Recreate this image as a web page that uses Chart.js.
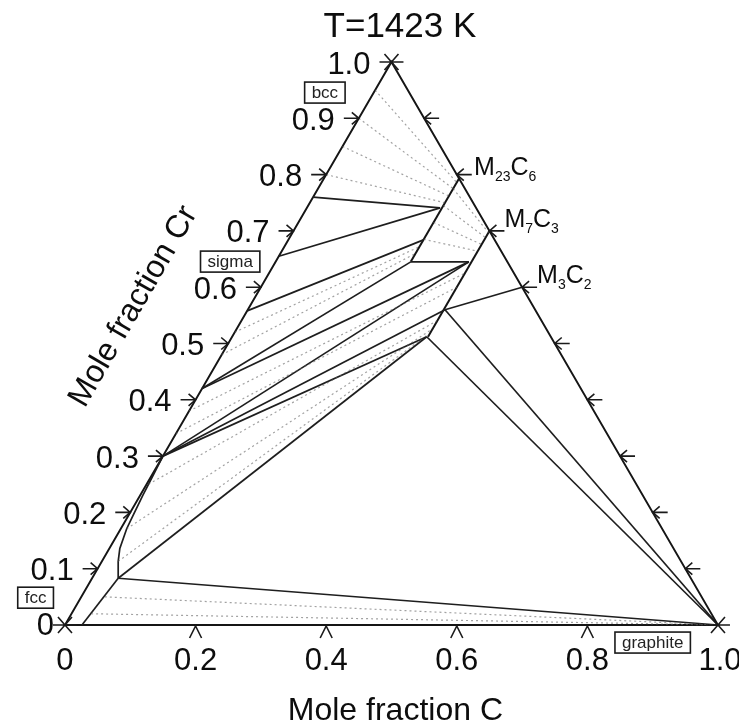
<!DOCTYPE html>
<html lang="en">
<head>
<meta charset="UTF-8">
<title>T=1423 K</title>
<script src="https://cdn.jsdelivr.net/npm/chart.js"></script>
<style>
  html, body { margin: 0; padding: 0; background: #fff; }
  canvas { display: block; }
</style>
</head>
<body>
<canvas id="ternary" width="739" height="722"></canvas>
<script>
// every composition is [mole fraction C, mole fraction Cr]
const triangle = [[0, 0], [1, 0], [0, 1], [0, 0]];

// carbide phase lines
const m23c6 = [[0.207, 0.793], [0.207, 0.645]];
const m7c3 = [[0.300, 0.700], [0.300, 0.512]];

// phase boundaries and tie-triangle edges
const boundaries = [
  [[0.026, 0], [0.040, 0.083]],
  [[0.040, 0.083], [0.025, 0.113], [0.016, 0.136], [0.009, 0.171], [0.007, 0.195], [0.004, 0.230], [0.002, 0.266], [0, 0.300]],
  [[0.040, 0.083], [1, 0]],
  [[0.040, 0.083], [0.298, 0.512]],
  [[0.298, 0.512], [1, 0]],
  [[0.302, 0.560], [1, 0]],
  [[0.400, 0.600], [0.302, 0.560]],
  [[0.207, 0.645], [0.296, 0.645]],
  [[0, 0.760], [0.204, 0.741]],
  [[0, 0.655], [0.204, 0.741]],
  [[0, 0.558], [0.207, 0.684]],
  [[0, 0.420], [0.207, 0.645]],
  [[0, 0.420], [0.296, 0.645]],
  [[0, 0.300], [0.296, 0.645]],
  [[0, 0.300], [0.302, 0.560]],
  [[0, 0.300], [0.298, 0.512]]
];

// faint tie lines inside two-phase fields
const tieLines = [
  [[0, 0.800], [0.207, 0.750]],
  [[0, 0.850], [0.207, 0.762]],
  [[0, 0.900], [0.207, 0.775]],
  [[0, 0.950], [0.207, 0.786]],
  [[0.207, 0.775], [0.300, 0.697]],
  [[0.207, 0.745], [0.300, 0.688]],
  [[0.207, 0.715], [0.300, 0.676]],
  [[0.207, 0.685], [0.300, 0.664]],
  [[0, 0.480], [0.207, 0.660]],
  [[0, 0.520], [0.207, 0.672]],
  [[0, 0.340], [0.300, 0.600]],
  [[0, 0.380], [0.300, 0.625]],
  [[0.003, 0.250], [0.299, 0.540]],
  [[0.009, 0.171], [0.299, 0.525]],
  [[0.025, 0.113], [0.298, 0.516]],
  [[0.030, 0.020], [1, 0]],
  [[0.036, 0.050], [1, 0]]
];

const crTicks = [0.1, 0.2, 0.3, 0.4, 0.5, 0.6, 0.7, 0.8, 0.9];
const cTicks = [0.2, 0.4, 0.6, 0.8];
const cTickLabels = ['0.2', '0.4', '0.6', '0.8'];
const crTickLabels = ['0.1', '0.2', '0.3', '0.4', '0.5', '0.6', '0.7', '0.8', '0.9'];

const carbides = [
  { main: 'M', sub1: '23', c: 'C', sub2: '6', at: [0.207, 0.793] },
  { main: 'M', sub1: '7', c: 'C', sub2: '3', at: [0.300, 0.700] },
  { main: 'M', sub1: '3', c: 'C', sub2: '2', at: [0.400, 0.600] }
];

// boxed phase names, anchored in chart units
const phaseBoxes = [
  { text: 'bcc', x: 0.398, y: 0.819 },
  { text: 'sigma', x: 0.253, y: 0.559 },
  { text: 'fcc', x: -0.045, y: 0.042 },
  { text: 'graphite', x: 0.900, y: -0.027 }
];

const H = Math.sqrt(3) / 2;
const toXY = ([c, cr]) => ({ x: c + cr / 2, y: cr * H });
const FONT = '"Liberation Sans", Arial, Helvetica, sans-serif';

const datasets = [];
tieLines.forEach(seg => datasets.push({
  data: seg.map(toXY), showLine: true, borderColor: 'rgba(100,100,100,0.6)',
  borderWidth: 1.2, borderDash: [2, 3], pointRadius: 0
}));
boundaries.forEach(seg => datasets.push({
  data: seg.map(toXY), showLine: true, borderColor: '#1e1e1e',
  borderWidth: 1.7, pointRadius: 0
}));
[m23c6, m7c3].forEach(seg => datasets.push({
  data: seg.map(toXY), showLine: true, borderColor: '#151515',
  borderWidth: 2, pointRadius: 0
}));
datasets.push({
  data: triangle.map(toXY), showLine: true, borderColor: '#151515',
  borderWidth: 1.9, pointRadius: 0
});

const decor = {
  id: 'decor',
  afterDatasetsDraw(chart) {
    const { ctx, scales } = chart;
    const P = (c, cr) => [scales.x.getPixelForValue(c + cr / 2), scales.y.getPixelForValue(cr * H)];
    ctx.save();
    ctx.strokeStyle = '#1a1a1a';
    ctx.fillStyle = '#0d0d0d';
    ctx.lineWidth = 1.6;

    // vertex stars
    [[0, 0], [1, 0], [0, 1]].forEach(v => {
      const [x, y] = P(v[0], v[1]);
      ctx.beginPath();
      ctx.moveTo(x - 7, y - 8); ctx.lineTo(x + 7, y + 8);
      ctx.moveTo(x + 7, y - 8); ctx.lineTo(x - 7, y + 8);
      ctx.moveTo(x - 12, y); ctx.lineTo(x + 12, y);
      ctx.stroke();
    });

    // left (Cr) ticks and right-edge ticks
    crTicks.forEach((v, i) => {
      let [x, y] = P(0, v);
      ctx.beginPath();
      ctx.moveTo(x - 15, y); ctx.lineTo(x, y);
      ctx.moveTo(x - 7, y - 6); ctx.lineTo(x, y); ctx.lineTo(x - 7, y + 6);
      ctx.stroke();
      ctx.font = '31px ' + FONT;
      ctx.textAlign = 'right'; ctx.textBaseline = 'middle';
      ctx.fillText(crTickLabels[i], x - 24, y + 3);

      [x, y] = P(1 - v, v);
      ctx.beginPath();
      ctx.moveTo(x + 15, y); ctx.lineTo(x, y);
      ctx.moveTo(x + 7, y - 6); ctx.lineTo(x, y); ctx.lineTo(x + 7, y + 6);
      ctx.stroke();
    });

    // bottom (C) ticks
    ctx.font = '31px ' + FONT;
    ctx.textAlign = 'center'; ctx.textBaseline = 'middle';
    cTicks.forEach((v, i) => {
      const [x, y] = P(v, 0);
      ctx.beginPath();
      ctx.moveTo(x - 6, y + 13); ctx.lineTo(x, y + 1); ctx.lineTo(x + 6, y + 13);
      ctx.stroke();
      ctx.fillText(cTickLabels[i], x, y + 36);
    });
    const [x0, y0] = P(0, 0);
    ctx.fillText('0', x0, y0 + 36);
    ctx.textAlign = 'right';
    ctx.fillText('0', x0 - 11, y0 + 1);
    const [xt, yt] = P(0, 1);
    ctx.fillText('1.0', xt - 21, yt + 3);
    const [xr, yr] = P(1, 0);
    ctx.textAlign = 'center';
    ctx.fillText('1.0', xr + 2, yr + 36);

    // axis titles and temperature
    ctx.font = '32px ' + FONT;
    ctx.textAlign = 'center'; ctx.textBaseline = 'alphabetic';
    ctx.fillText('Mole fraction C', scales.x.getPixelForValue(0.506), 720);
    ctx.font = '35px ' + FONT;
    ctx.fillText('T=1423 K', scales.x.getPixelForValue(0.513), 37);
    ctx.save();
    ctx.translate(scales.x.getPixelForValue(0.105), scales.y.getPixelForValue(0.49));
    ctx.rotate(-Math.PI / 3);
    ctx.font = '32px ' + FONT;
    ctx.textBaseline = 'middle';
    ctx.fillText('Mole fraction Cr', 0, 0);
    ctx.restore();

    // carbide labels
    carbides.forEach(cb => {
      const [x, y] = P(cb.at[0], cb.at[1]);
      let cx = x + 15;
      const base = y - 4;
      ctx.textAlign = 'left'; ctx.textBaseline = 'alphabetic';
      ctx.font = '25px ' + FONT;
      ctx.fillText(cb.main, cx, base); cx += ctx.measureText(cb.main).width;
      ctx.font = '14px ' + FONT;
      ctx.fillText(cb.sub1, cx, base + 6); cx += ctx.measureText(cb.sub1).width;
      ctx.font = '25px ' + FONT;
      ctx.fillText(cb.c, cx, base); cx += ctx.measureText(cb.c).width;
      ctx.font = '14px ' + FONT;
      ctx.fillText(cb.sub2, cx, base + 6);
    });

    // boxed phase labels
    ctx.font = '17px ' + FONT;
    ctx.textAlign = 'center'; ctx.textBaseline = 'middle';
    ctx.lineWidth = 1.6;
    phaseBoxes.forEach(b => {
      const x = scales.x.getPixelForValue(b.x);
      const y = scales.y.getPixelForValue(b.y);
      const w = ctx.measureText(b.text).width + 14;
      const h = 21;
      ctx.fillStyle = '#fff';
      ctx.fillRect(x - w / 2, y - h / 2, w, h);
      ctx.strokeRect(x - w / 2, y - h / 2, w, h);
      ctx.fillStyle = '#222';
      ctx.fillText(b.text, x, y + 1);
    });
    ctx.restore();
  }
};

new Chart(document.getElementById('ternary'), {
  type: 'scatter',
  data: { datasets },
  options: {
    responsive: false,
    animation: false,
    layout: { padding: 0 },
    plugins: { legend: { display: false }, tooltip: { enabled: false } },
    elements: { point: { radius: 0 }, line: { tension: 0 } },
    scales: {
      x: { type: 'linear', display: false, min: -0.0995, max: 1.0322 },
      y: { type: 'linear', display: false, min: -0.1492, max: 0.9614 }
    }
  },
  plugins: [decor]
});
</script>
</body>
</html>
